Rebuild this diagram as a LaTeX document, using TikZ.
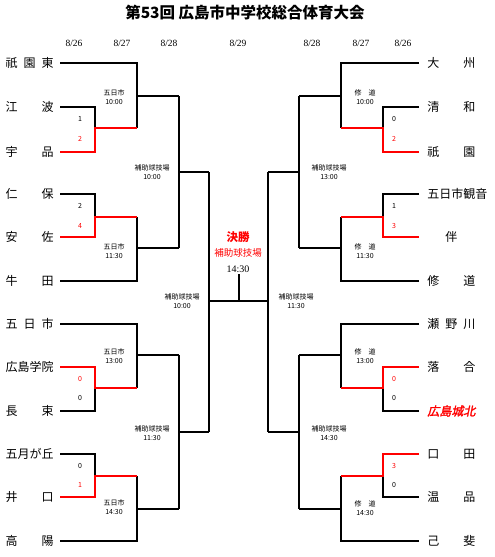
\documentclass[tikz,border=0pt]{standalone}
\usepackage{fontspec}
\setmainfont{Liberation Serif}
\newfontfamily\jp{Noto Sans CJK JP}
\newfontfamily\jpsl{Noto Sans CJK JP}[FakeSlant=0.2,FakeBold=2]
\newcommand{\tname}[1]{\makebox[48pt][s]{#1}}

\begin{document}
\begin{tikzpicture}[x=1pt, y=-1pt, thick,
  bk/.style={line width=1.9pt, black},
  rd/.style={line width=2.8pt, red},
  lteam/.style={anchor=east, inner xsep=6pt, inner ysep=0pt, font=\jp\fontsize{12}{12}\selectfont},
  rteam/.style={anchor=west, inner xsep=8pt, inner ysep=0pt, font=\jp\fontsize{12}{12}\selectfont},
  venue/.style={align=center, inner sep=0pt, font=\jp\fontsize{7}{9}\selectfont},
  score/.style={inner sep=0pt, font=\jp\fontsize{7}{7}\selectfont},
  date/.style={inner sep=0pt, font=\fontsize{9.5}{10}\selectfont}]

  \useasboundingbox (0,0) rectangle (495,557);

  % 参数：各轮竖线的 x 坐标（左 / 右）
  \pgfmathsetmacro{\xb}{95}
  \pgfmathsetmacro{\xc}{137}
  \pgfmathsetmacro{\xd}{179}
  \pgfmathsetmacro{\xe}{209}
  \pgfmathsetmacro{\yb}{383}
  \pgfmathsetmacro{\yc}{341}
  \pgfmathsetmacro{\yd}{299}
  \pgfmathsetmacro{\ye}{268}

  % 标题与日期
  \node[font=\jp\bfseries\fontsize{15.5}{15.5}\selectfont] (title) at (245,13) {第53回 広島市中学校総合体育大会};
  \node[date] (d1) at (74,43) {8/26};
  \node[date] (d2) at (122,43) {8/27};
  \node[date] (d3) at (169,43) {8/28};
  \node[date] (d4) at (238,43) {8/29};
  \node[date] (d5) at (312,43) {8/28};
  \node[date] (d6) at (361,43) {8/27};
  \node[date] (d7) at (403,43) {8/26};

  % ---- 左侧队名 ----
  \node[lteam] (L1) at (60,63) {\tname{祇\hfill 園\hfill 東}};
  \node[lteam] (L2) at (60,107) {\tname{江\hfill 波}};
  \node[lteam] (L3) at (60,152) {\tname{宇\hfill 品}};
  \node[lteam] (L4) at (60,194) {\tname{仁\hfill 保}};
  \node[lteam] (L5) at (60,237) {\tname{安\hfill 佐}};
  \node[lteam] (L6) at (60,281) {\tname{牛\hfill 田}};
  \node[lteam] (L7) at (60,324) {\tname{五\hfill 日\hfill 市}};
  \node[lteam] (L8) at (60,367) {\tname{広島学院}};
  \node[lteam] (L9) at (60,411) {\tname{長\hfill 束}};
  \node[lteam] (L10) at (60,454) {\tname{五月が丘}};
  \node[lteam] (L11) at (60,497) {\tname{井\hfill 口}};
  \node[lteam] (L12) at (60,541) {\tname{高\hfill 陽}};

  % ---- 右侧队名 ----
  \node[rteam] (R1) at (419,63) {\tname{大\hfill 州}};
  \node[rteam] (R2) at (419,107) {\tname{清\hfill 和}};
  \node[rteam] (R3) at (419,152) {\tname{祇\hfill 園}};
  \node[rteam] (R4) at (419,194) {五日市観音};
  \node[rteam] (R5) at (419,237) {\tname{\hfill 伴\hfill}};
  \node[rteam] (R6) at (419,281) {\tname{修\hfill 道}};
  \node[rteam] (R7) at (419,324) {\tname{瀬\hfill 野\hfill 川}};
  \node[rteam] (R8) at (419,367) {\tname{落\hfill 合}};
  \node[rteam, font=\jpsl\fontsize{12}{12}\selectfont, text=red] (R9) at (419,411) {\tname{広島城北}};
  \node[rteam] (R10) at (419,454) {\tname{口\hfill 田}};
  \node[rteam] (R11) at (419,497) {\tname{温\hfill 品}};
  \node[rteam] (R12) at (419,541) {\tname{己\hfill 斐}};

  % ---- 左半区 ----
  \draw[bk] (L1.east) -| (\xc,128);
  \draw[bk] (L2.east) -| (\xb,128);
  \draw[rd] (L3.east) -| (\xb,128) -- (\xc,128);
  \draw[bk] (\xc,96) -- (\xd,96);

  \draw[bk] (L4.east) -| (\xb,217);
  \draw[bk] (L6.east) -| (\xc,217);
  \draw[rd] (L5.east) -| (\xb,217) -- (\xc,217);
  \draw[bk] (\xc,248) -- (\xd,248);

  \draw[bk] (\xd,96) -- (\xd,248);
  \draw[bk] (\xd,172) -- (\xe,172);

  \draw[bk] (L7.east) -| (\xc,388);
  \draw[bk] (L9.east) -| (\xb,388);
  \draw[rd] (L8.east) -| (\xb,388) -- (\xc,388);
  \draw[bk] (\xc,355) -- (\xd,355);

  \draw[bk] (L10.east) -| (\xb,476);
  \draw[bk] (L12.east) -| (\xc,476);
  \draw[rd] (L11.east) -| (\xb,476) -- (\xc,476);
  \draw[bk] (\xc,509) -- (\xd,509);

  \draw[bk] (\xd,355) -- (\xd,509);
  \draw[bk] (\xd,432) -- (\xe,432);
  \draw[bk] (\xe,172) -- (\xe,432);

  % ---- 右半区 ----
  \draw[bk] (R1.west) -| (\yc,128);
  \draw[bk] (R2.west) -| (\yb,128);
  \draw[rd] (R3.west) -| (\yb,128) -- (\yc,128);
  \draw[bk] (\yc,96) -- (\yd,96);

  \draw[bk] (R4.west) -| (\yb,217);
  \draw[bk] (R6.west) -| (\yc,217);
  \draw[rd] (R5.west) -| (\yb,217) -- (\yc,217);
  \draw[bk] (\yc,248) -- (\yd,248);

  \draw[bk] (\yd,96) -- (\yd,248);
  \draw[bk] (\yd,172) -- (\ye,172);

  \draw[bk] (R7.west) -| (\yc,388);
  \draw[bk] (R9.west) -| (\yb,388);
  \draw[rd] (R8.west) -| (\yb,388) -- (\yc,388);
  \draw[bk] (\yc,355) -- (\yd,355);

  \draw[bk] (R11.west) -| (\yb,476);
  \draw[bk] (R12.west) -| (\yc,476);
  \draw[rd] (R10.west) -| (\yb,476) -- (\yc,476);
  \draw[bk] (\yc,509) -- (\yd,509);

  \draw[bk] (\yd,355) -- (\yd,509);
  \draw[bk] (\yd,432) -- (\ye,432);
  \draw[bk] (\ye,172) -- (\ye,432);

  % ---- 决赛 ----
  \draw[bk] (\xe,301) -- (\ye,301);
  \node[font=\jp\bfseries\fontsize{11.5}{11.5}\selectfont, text=red] (fin) at (238,237) {決勝};
  \node[font=\jp\fontsize{9.5}{10}\selectfont, text=red] (finv) at (238,253) {補助球技場};
  \node[font=\fontsize{10}{10}\selectfont, inner sep=1pt] (fint) at (238,269) {14:30};
  \draw[bk] (239,301) -- (fint.south -| 239,0);

  % ---- 会场与时间 ----
  \node[venue] (v1) at (114,97) {五日市\\10:00};
  \node[venue] (v2) at (152,172) {補助球技場\\10:00};
  \node[venue] (v3) at (114,251) {五日市\\11:30};
  \node[venue] (v4) at (182,301) {補助球技場\\10:00};
  \node[venue] (v5) at (114,356) {五日市\\13:00};
  \node[venue] (v6) at (152,433) {補助球技場\\11:30};
  \node[venue] (v7) at (114,507) {五日市\\14:30};

  \node[venue] (w1) at (365,97) {修\quad 道\\10:00};
  \node[venue] (w2) at (329,172) {補助球技場\\13:00};
  \node[venue] (w3) at (365,251) {修\quad 道\\11:30};
  \node[venue] (w4) at (296,301) {補助球技場\\11:30};
  \node[venue] (w5) at (365,356) {修\quad 道\\13:00};
  \node[venue] (w6) at (329,433) {補助球技場\\14:30};
  \node[venue] (w7) at (365,508) {修\quad 道\\14:30};

  % ---- 比分 ----
  \node[score] (s1) at (80,119) {1};
  \node[score, text=red] (s2) at (80,139) {2};
  \node[score] (s3) at (80,206) {2};
  \node[score, text=red] (s4) at (80,226) {4};
  \node[score, text=red] (s5) at (80,379) {0};
  \node[score] (s6) at (80,398) {0};
  \node[score] (s7) at (80,466) {0};
  \node[score, text=red] (s8) at (80,485) {1};

  \node[score] (t1) at (394,119) {0};
  \node[score, text=red] (t2) at (394,139) {2};
  \node[score] (t3) at (394,206) {1};
  \node[score, text=red] (t4) at (394,226) {3};
  \node[score, text=red] (t5) at (394,379) {0};
  \node[score] (t6) at (394,398) {0};
  \node[score, text=red] (t7) at (394,466) {3};
  \node[score] (t8) at (394,485) {0};

\end{tikzpicture}
\end{document}
